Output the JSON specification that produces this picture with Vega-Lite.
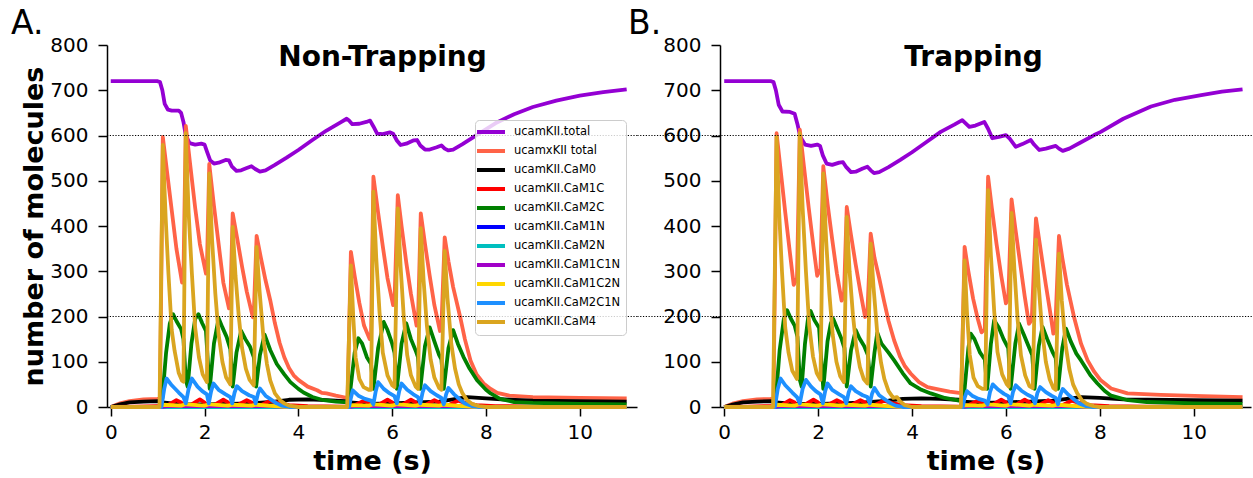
{
  "$schema": "https://vega.github.io/schema/vega-lite/v6.json",
  "background": "white",
  "padding": {"left": 11, "top": 8, "right": 0, "bottom": 0},
  "bounds": "flush",
  "spacing": 83,
  "config": {
    "view": {"stroke": null},
    "font": "DejaVu Sans",
    "axis": {"domainColor": "black", "domainWidth": 1.5, "tickColor": "black", "tickWidth": 1.5, "tickSize": 9, "labelFontSize": 20, "labelColor": "black", "labelFont": "DejaVu Sans", "titleFont": "DejaVu Sans", "titleFontWeight": "bold", "titleFontSize": 27, "titleColor": "black", "grid": false, "zindex": 1},
    "title": {"font": "DejaVu Sans", "fontSize": 33, "fontWeight": "normal", "color": "black", "anchor": "start", "frame": "group", "baseline": "alphabetic", "offset": 0, "dy": 10}
  },
  "resolve": {"scale": {"color": "independent"}, "legend": {"color": "independent"}},
  "datasets": {
    "levels": [{"n": 200}, {"n": 600}],
    "A": [
      {"s":"total","t":0,"n":720},{"s":"total","t":1.0,"n":720},{"s":"total","t":1.05,"n":718},{"s":"total","t":1.1,"n":700},{"s":"total","t":1.15,"n":670},{"s":"total","t":1.22,"n":657},{"s":"total","t":1.3,"n":655},{"s":"total","t":1.45,"n":655},{"s":"total","t":1.5,"n":650},{"s":"total","t":1.55,"n":630},{"s":"total","t":1.6,"n":600},{"s":"total","t":1.68,"n":583},{"s":"total","t":1.8,"n":580},{"s":"total","t":1.93,"n":582},{"s":"total","t":2.0,"n":580},{"s":"total","t":2.05,"n":565},{"s":"total","t":2.12,"n":545},{"s":"total","t":2.2,"n":538},{"s":"total","t":2.3,"n":540},{"s":"total","t":2.45,"n":546},{"s":"total","t":2.52,"n":545},{"s":"total","t":2.58,"n":532},{"s":"total","t":2.68,"n":522},{"s":"total","t":2.78,"n":523},{"s":"total","t":2.9,"n":528},{"s":"total","t":3.0,"n":532},{"s":"total","t":3.08,"n":526},{"s":"total","t":3.18,"n":520},{"s":"total","t":3.3,"n":523},{"s":"total","t":3.5,"n":535},{"s":"total","t":3.75,"n":551},{"s":"total","t":4.0,"n":568},{"s":"total","t":4.3,"n":590},{"s":"total","t":4.6,"n":611},{"s":"total","t":4.9,"n":629},{"s":"total","t":5.03,"n":637},{"s":"total","t":5.08,"n":633},{"s":"total","t":5.15,"n":625},{"s":"total","t":5.3,"n":626},{"s":"total","t":5.45,"n":630},{"s":"total","t":5.53,"n":633},{"s":"total","t":5.6,"n":620},{"s":"total","t":5.68,"n":604},{"s":"total","t":5.8,"n":603},{"s":"total","t":5.95,"n":607},{"s":"total","t":6.02,"n":604},{"s":"total","t":6.1,"n":589},{"s":"total","t":6.18,"n":579},{"s":"total","t":6.3,"n":582},{"s":"total","t":6.45,"n":589},{"s":"total","t":6.53,"n":590},{"s":"total","t":6.6,"n":578},{"s":"total","t":6.7,"n":569},{"s":"total","t":6.8,"n":569},{"s":"total","t":6.95,"n":574},{"s":"total","t":7.05,"n":578},{"s":"total","t":7.12,"n":571},{"s":"total","t":7.2,"n":567},{"s":"total","t":7.3,"n":569},{"s":"total","t":7.5,"n":581},{"s":"total","t":7.8,"n":601},{"s":"total","t":8.2,"n":627},{"s":"total","t":8.6,"n":647},{"s":"total","t":9.0,"n":663},{"s":"total","t":9.5,"n":677},{"s":"total","t":10.0,"n":688},{"s":"total","t":10.5,"n":696},{"s":"total","t":11.0,"n":702},
      {"s":"xtotal","t":0,"n":0},{"s":"xtotal","t":0.2,"n":8},{"s":"xtotal","t":0.4,"n":13},{"s":"xtotal","t":0.7,"n":17},{"s":"xtotal","t":1.0,"n":18},{"s":"xtotal","t":1.05,"n":20},{"s":"xtotal","t":1.11,"n":597},{"s":"xtotal","t":1.2,"n":520},{"s":"xtotal","t":1.3,"n":435},{"s":"xtotal","t":1.4,"n":350},{"s":"xtotal","t":1.52,"n":275},{"s":"xtotal","t":1.55,"n":290},{"s":"xtotal","t":1.6,"n":621},{"s":"xtotal","t":1.7,"n":530},{"s":"xtotal","t":1.8,"n":440},{"s":"xtotal","t":1.9,"n":360},{"s":"xtotal","t":2.03,"n":295},{"s":"xtotal","t":2.05,"n":305},{"s":"xtotal","t":2.1,"n":537},{"s":"xtotal","t":2.2,"n":445},{"s":"xtotal","t":2.3,"n":360},{"s":"xtotal","t":2.4,"n":275},{"s":"xtotal","t":2.52,"n":218},{"s":"xtotal","t":2.55,"n":230},{"s":"xtotal","t":2.6,"n":428},{"s":"xtotal","t":2.7,"n":370},{"s":"xtotal","t":2.8,"n":310},{"s":"xtotal","t":2.9,"n":255},{"s":"xtotal","t":3.03,"n":198},{"s":"xtotal","t":3.05,"n":208},{"s":"xtotal","t":3.11,"n":378},{"s":"xtotal","t":3.2,"n":330},{"s":"xtotal","t":3.3,"n":280},{"s":"xtotal","t":3.4,"n":236},{"s":"xtotal","t":3.5,"n":185},{"s":"xtotal","t":3.6,"n":142},{"s":"xtotal","t":3.7,"n":110},{"s":"xtotal","t":3.8,"n":86},{"s":"xtotal","t":3.9,"n":70},{"s":"xtotal","t":4.0,"n":60},{"s":"xtotal","t":4.2,"n":45},{"s":"xtotal","t":4.4,"n":37},{"s":"xtotal","t":4.5,"n":31},{"s":"xtotal","t":4.6,"n":30},{"s":"xtotal","t":4.8,"n":25},{"s":"xtotal","t":5.0,"n":21},{"s":"xtotal","t":5.05,"n":23},{"s":"xtotal","t":5.12,"n":343},{"s":"xtotal","t":5.2,"n":290},{"s":"xtotal","t":5.3,"n":230},{"s":"xtotal","t":5.4,"n":180},{"s":"xtotal","t":5.52,"n":150},{"s":"xtotal","t":5.55,"n":160},{"s":"xtotal","t":5.6,"n":509},{"s":"xtotal","t":5.7,"n":430},{"s":"xtotal","t":5.8,"n":355},{"s":"xtotal","t":5.9,"n":285},{"s":"xtotal","t":6.02,"n":225},{"s":"xtotal","t":6.05,"n":235},{"s":"xtotal","t":6.12,"n":468},{"s":"xtotal","t":6.2,"n":400},{"s":"xtotal","t":6.3,"n":320},{"s":"xtotal","t":6.4,"n":250},{"s":"xtotal","t":6.52,"n":180},{"s":"xtotal","t":6.55,"n":190},{"s":"xtotal","t":6.61,"n":428},{"s":"xtotal","t":6.7,"n":360},{"s":"xtotal","t":6.8,"n":290},{"s":"xtotal","t":6.9,"n":225},{"s":"xtotal","t":7.02,"n":168},{"s":"xtotal","t":7.05,"n":178},{"s":"xtotal","t":7.12,"n":375},{"s":"xtotal","t":7.2,"n":322},{"s":"xtotal","t":7.3,"n":265},{"s":"xtotal","t":7.45,"n":199},{"s":"xtotal","t":7.55,"n":150},{"s":"xtotal","t":7.67,"n":103},{"s":"xtotal","t":7.8,"n":72},{"s":"xtotal","t":7.95,"n":52},{"s":"xtotal","t":8.1,"n":40},{"s":"xtotal","t":8.24,"n":31},{"s":"xtotal","t":8.5,"n":25},{"s":"xtotal","t":9.0,"n":22},{"s":"xtotal","t":10.0,"n":20},{"s":"xtotal","t":11.0,"n":19},
      {"s":"CaM0","t":0,"n":0},{"s":"CaM0","t":0.2,"n":6},{"s":"CaM0","t":0.4,"n":10},{"s":"CaM0","t":0.7,"n":12},{"s":"CaM0","t":1.0,"n":13},{"s":"CaM0","t":1.1,"n":10},{"s":"CaM0","t":1.5,"n":6},{"s":"CaM0","t":2.0,"n":6},{"s":"CaM0","t":2.5,"n":7},{"s":"CaM0","t":3.0,"n":8},{"s":"CaM0","t":3.5,"n":12},{"s":"CaM0","t":3.8,"n":16},{"s":"CaM0","t":4.2,"n":17},{"s":"CaM0","t":4.6,"n":15},{"s":"CaM0","t":5.0,"n":13},{"s":"CaM0","t":5.1,"n":10},{"s":"CaM0","t":5.5,"n":7},{"s":"CaM0","t":6.0,"n":8},{"s":"CaM0","t":6.5,"n":10},{"s":"CaM0","t":7.0,"n":12},{"s":"CaM0","t":7.3,"n":17},{"s":"CaM0","t":7.6,"n":22},{"s":"CaM0","t":8.0,"n":19},{"s":"CaM0","t":8.5,"n":16},{"s":"CaM0","t":9.0,"n":14},{"s":"CaM0","t":10.0,"n":13},{"s":"CaM0","t":11.0,"n":12},
      {"s":"CaM1C","t":0,"n":0},{"s":"CaM1C","t":0.5,"n":1},{"s":"CaM1C","t":1.0,"n":2},{"s":"CaM1C","t":1.05,"n":0},{"s":"CaM1C","t":1.2,"n":3},{"s":"CaM1C","t":1.4,"n":15},{"s":"CaM1C","t":1.5,"n":10},{"s":"CaM1C","t":1.55,"n":0},{"s":"CaM1C","t":1.7,"n":4},{"s":"CaM1C","t":1.9,"n":17},{"s":"CaM1C","t":2.0,"n":10},{"s":"CaM1C","t":2.05,"n":0},{"s":"CaM1C","t":2.2,"n":4},{"s":"CaM1C","t":2.4,"n":16},{"s":"CaM1C","t":2.5,"n":10},{"s":"CaM1C","t":2.55,"n":0},{"s":"CaM1C","t":2.7,"n":4},{"s":"CaM1C","t":2.9,"n":15},{"s":"CaM1C","t":3.0,"n":10},{"s":"CaM1C","t":3.05,"n":0},{"s":"CaM1C","t":3.2,"n":4},{"s":"CaM1C","t":3.4,"n":14},{"s":"CaM1C","t":3.6,"n":8},{"s":"CaM1C","t":3.8,"n":4},{"s":"CaM1C","t":4.2,"n":2},{"s":"CaM1C","t":5.0,"n":1},{"s":"CaM1C","t":5.05,"n":0},{"s":"CaM1C","t":5.2,"n":4},{"s":"CaM1C","t":5.4,"n":14},{"s":"CaM1C","t":5.5,"n":9},{"s":"CaM1C","t":5.55,"n":0},{"s":"CaM1C","t":5.7,"n":4},{"s":"CaM1C","t":5.9,"n":16},{"s":"CaM1C","t":6.0,"n":10},{"s":"CaM1C","t":6.05,"n":0},{"s":"CaM1C","t":6.2,"n":4},{"s":"CaM1C","t":6.4,"n":16},{"s":"CaM1C","t":6.5,"n":10},{"s":"CaM1C","t":6.55,"n":0},{"s":"CaM1C","t":6.7,"n":4},{"s":"CaM1C","t":6.9,"n":15},{"s":"CaM1C","t":7.0,"n":10},{"s":"CaM1C","t":7.05,"n":0},{"s":"CaM1C","t":7.2,"n":4},{"s":"CaM1C","t":7.4,"n":14},{"s":"CaM1C","t":7.6,"n":8},{"s":"CaM1C","t":7.8,"n":4},{"s":"CaM1C","t":8.2,"n":2},{"s":"CaM1C","t":9.0,"n":1},{"s":"CaM1C","t":11.0,"n":1},
      {"s":"CaM2C","t":0,"n":0},{"s":"CaM2C","t":1.05,"n":0},{"s":"CaM2C","t":1.1,"n":20},{"s":"CaM2C","t":1.18,"n":120},{"s":"CaM2C","t":1.26,"n":185},{"s":"CaM2C","t":1.33,"n":205},{"s":"CaM2C","t":1.4,"n":190},{"s":"CaM2C","t":1.5,"n":172},{"s":"CaM2C","t":1.55,"n":150},{"s":"CaM2C","t":1.6,"n":60},{"s":"CaM2C","t":1.64,"n":45},{"s":"CaM2C","t":1.72,"n":140},{"s":"CaM2C","t":1.8,"n":195},{"s":"CaM2C","t":1.87,"n":205},{"s":"CaM2C","t":1.95,"n":185},{"s":"CaM2C","t":2.03,"n":168},{"s":"CaM2C","t":2.07,"n":100},{"s":"CaM2C","t":2.11,"n":40},{"s":"CaM2C","t":2.2,"n":140},{"s":"CaM2C","t":2.3,"n":196},{"s":"CaM2C","t":2.38,"n":176},{"s":"CaM2C","t":2.47,"n":155},{"s":"CaM2C","t":2.55,"n":128},{"s":"CaM2C","t":2.6,"n":45},{"s":"CaM2C","t":2.68,"n":120},{"s":"CaM2C","t":2.78,"n":168},{"s":"CaM2C","t":2.87,"n":150},{"s":"CaM2C","t":2.97,"n":133},{"s":"CaM2C","t":3.05,"n":110},{"s":"CaM2C","t":3.1,"n":45},{"s":"CaM2C","t":3.18,"n":115},{"s":"CaM2C","t":3.28,"n":160},{"s":"CaM2C","t":3.4,"n":126},{"s":"CaM2C","t":3.54,"n":95},{"s":"CaM2C","t":3.7,"n":72},{"s":"CaM2C","t":3.83,"n":55},{"s":"CaM2C","t":4.0,"n":40},{"s":"CaM2C","t":4.11,"n":32},{"s":"CaM2C","t":4.3,"n":22},{"s":"CaM2C","t":4.54,"n":15},{"s":"CaM2C","t":4.8,"n":12},{"s":"CaM2C","t":5.05,"n":10},{"s":"CaM2C","t":5.1,"n":30},{"s":"CaM2C","t":5.2,"n":120},{"s":"CaM2C","t":5.28,"n":152},{"s":"CaM2C","t":5.36,"n":140},{"s":"CaM2C","t":5.46,"n":110},{"s":"CaM2C","t":5.55,"n":95},{"s":"CaM2C","t":5.6,"n":40},{"s":"CaM2C","t":5.7,"n":130},{"s":"CaM2C","t":5.82,"n":188},{"s":"CaM2C","t":5.9,"n":170},{"s":"CaM2C","t":6.0,"n":140},{"s":"CaM2C","t":6.05,"n":120},{"s":"CaM2C","t":6.1,"n":40},{"s":"CaM2C","t":6.2,"n":140},{"s":"CaM2C","t":6.3,"n":185},{"s":"CaM2C","t":6.4,"n":150},{"s":"CaM2C","t":6.5,"n":125},{"s":"CaM2C","t":6.55,"n":110},{"s":"CaM2C","t":6.6,"n":40},{"s":"CaM2C","t":6.7,"n":135},{"s":"CaM2C","t":6.8,"n":176},{"s":"CaM2C","t":6.9,"n":145},{"s":"CaM2C","t":7.0,"n":115},{"s":"CaM2C","t":7.05,"n":105},{"s":"CaM2C","t":7.1,"n":40},{"s":"CaM2C","t":7.2,"n":130},{"s":"CaM2C","t":7.3,"n":170},{"s":"CaM2C","t":7.4,"n":140},{"s":"CaM2C","t":7.52,"n":111},{"s":"CaM2C","t":7.65,"n":85},{"s":"CaM2C","t":7.81,"n":59},{"s":"CaM2C","t":8.0,"n":38},{"s":"CaM2C","t":8.1,"n":30},{"s":"CaM2C","t":8.3,"n":18},{"s":"CaM2C","t":8.6,"n":11},{"s":"CaM2C","t":9.0,"n":9},{"s":"CaM2C","t":10.0,"n":7},{"s":"CaM2C","t":11.0,"n":6},
      {"s":"CaM1N","t":0,"n":0},{"s":"CaM1N","t":1.05,"n":0},{"s":"CaM1N","t":1.2,"n":1},{"s":"CaM1N","t":3.5,"n":1},{"s":"CaM1N","t":4.0,"n":0},{"s":"CaM1N","t":5.05,"n":0},{"s":"CaM1N","t":5.2,"n":1},{"s":"CaM1N","t":7.5,"n":1},{"s":"CaM1N","t":8.0,"n":0},{"s":"CaM1N","t":11.0,"n":0},
      {"s":"CaM2N","t":0,"n":0},{"s":"CaM2N","t":1.1,"n":0},{"s":"CaM2N","t":3.5,"n":0},{"s":"CaM2N","t":5.1,"n":0},{"s":"CaM2N","t":7.5,"n":0},{"s":"CaM2N","t":11.0,"n":0},
      {"s":"CaM1C1N","t":0,"n":0},{"s":"CaM1C1N","t":1.05,"n":0},{"s":"CaM1C1N","t":1.2,"n":2},{"s":"CaM1C1N","t":3.4,"n":2},{"s":"CaM1C1N","t":3.8,"n":0},{"s":"CaM1C1N","t":5.05,"n":0},{"s":"CaM1C1N","t":5.2,"n":2},{"s":"CaM1C1N","t":7.4,"n":2},{"s":"CaM1C1N","t":7.8,"n":0},{"s":"CaM1C1N","t":11.0,"n":0},
      {"s":"CaM1C2N","t":0,"n":0},{"s":"CaM1C2N","t":1.0,"n":0},{"s":"CaM1C2N","t":1.1,"n":5},{"s":"CaM1C2N","t":1.5,"n":3},{"s":"CaM1C2N","t":1.6,"n":6},{"s":"CaM1C2N","t":2.0,"n":3},{"s":"CaM1C2N","t":2.1,"n":6},{"s":"CaM1C2N","t":2.5,"n":3},{"s":"CaM1C2N","t":2.6,"n":5},{"s":"CaM1C2N","t":3.0,"n":3},{"s":"CaM1C2N","t":3.1,"n":5},{"s":"CaM1C2N","t":3.5,"n":2},{"s":"CaM1C2N","t":3.8,"n":0},{"s":"CaM1C2N","t":5.0,"n":0},{"s":"CaM1C2N","t":5.1,"n":4},{"s":"CaM1C2N","t":5.5,"n":3},{"s":"CaM1C2N","t":5.6,"n":6},{"s":"CaM1C2N","t":6.0,"n":3},{"s":"CaM1C2N","t":6.1,"n":6},{"s":"CaM1C2N","t":6.5,"n":3},{"s":"CaM1C2N","t":6.6,"n":5},{"s":"CaM1C2N","t":7.0,"n":3},{"s":"CaM1C2N","t":7.1,"n":5},{"s":"CaM1C2N","t":7.5,"n":2},{"s":"CaM1C2N","t":7.8,"n":0},{"s":"CaM1C2N","t":11.0,"n":0},
      {"s":"CaM2C1N","t":0,"n":0},{"s":"CaM2C1N","t":1.08,"n":0},{"s":"CaM2C1N","t":1.14,"n":40},{"s":"CaM2C1N","t":1.19,"n":63},{"s":"CaM2C1N","t":1.3,"n":48},{"s":"CaM2C1N","t":1.45,"n":32},{"s":"CaM2C1N","t":1.55,"n":22},{"s":"CaM2C1N","t":1.6,"n":8},{"s":"CaM2C1N","t":1.66,"n":40},{"s":"CaM2C1N","t":1.73,"n":63},{"s":"CaM2C1N","t":1.85,"n":45},{"s":"CaM2C1N","t":1.95,"n":35},{"s":"CaM2C1N","t":2.05,"n":28},{"s":"CaM2C1N","t":2.09,"n":8},{"s":"CaM2C1N","t":2.14,"n":35},{"s":"CaM2C1N","t":2.19,"n":52},{"s":"CaM2C1N","t":2.3,"n":38},{"s":"CaM2C1N","t":2.45,"n":28},{"s":"CaM2C1N","t":2.55,"n":22},{"s":"CaM2C1N","t":2.59,"n":8},{"s":"CaM2C1N","t":2.64,"n":32},{"s":"CaM2C1N","t":2.69,"n":46},{"s":"CaM2C1N","t":2.8,"n":35},{"s":"CaM2C1N","t":2.95,"n":26},{"s":"CaM2C1N","t":3.05,"n":22},{"s":"CaM2C1N","t":3.09,"n":8},{"s":"CaM2C1N","t":3.14,"n":30},{"s":"CaM2C1N","t":3.18,"n":41},{"s":"CaM2C1N","t":3.3,"n":25},{"s":"CaM2C1N","t":3.45,"n":14},{"s":"CaM2C1N","t":3.54,"n":8},{"s":"CaM2C1N","t":3.65,"n":3},{"s":"CaM2C1N","t":3.8,"n":0},{"s":"CaM2C1N","t":5.08,"n":0},{"s":"CaM2C1N","t":5.12,"n":20},{"s":"CaM2C1N","t":5.16,"n":37},{"s":"CaM2C1N","t":5.28,"n":25},{"s":"CaM2C1N","t":5.42,"n":18},{"s":"CaM2C1N","t":5.55,"n":14},{"s":"CaM2C1N","t":5.6,"n":6},{"s":"CaM2C1N","t":5.65,"n":35},{"s":"CaM2C1N","t":5.7,"n":55},{"s":"CaM2C1N","t":5.82,"n":40},{"s":"CaM2C1N","t":5.95,"n":30},{"s":"CaM2C1N","t":6.05,"n":24},{"s":"CaM2C1N","t":6.1,"n":8},{"s":"CaM2C1N","t":6.15,"n":35},{"s":"CaM2C1N","t":6.2,"n":52},{"s":"CaM2C1N","t":6.32,"n":38},{"s":"CaM2C1N","t":6.45,"n":28},{"s":"CaM2C1N","t":6.55,"n":22},{"s":"CaM2C1N","t":6.6,"n":8},{"s":"CaM2C1N","t":6.65,"n":33},{"s":"CaM2C1N","t":6.7,"n":48},{"s":"CaM2C1N","t":6.82,"n":35},{"s":"CaM2C1N","t":6.95,"n":26},{"s":"CaM2C1N","t":7.05,"n":20},{"s":"CaM2C1N","t":7.1,"n":6},{"s":"CaM2C1N","t":7.15,"n":28},{"s":"CaM2C1N","t":7.2,"n":42},{"s":"CaM2C1N","t":7.32,"n":28},{"s":"CaM2C1N","t":7.45,"n":16},{"s":"CaM2C1N","t":7.55,"n":8},{"s":"CaM2C1N","t":7.7,"n":2},{"s":"CaM2C1N","t":7.85,"n":0},{"s":"CaM2C1N","t":11.0,"n":0},
      {"s":"CaM4","t":0,"n":0},{"s":"CaM4","t":1.04,"n":0},{"s":"CaM4","t":1.11,"n":579},{"s":"CaM4","t":1.17,"n":420},{"s":"CaM4","t":1.23,"n":295},{"s":"CaM4","t":1.3,"n":170},{"s":"CaM4","t":1.36,"n":125},{"s":"CaM4","t":1.45,"n":75},{"s":"CaM4","t":1.52,"n":58},{"s":"CaM4","t":1.55,"n":56},{"s":"CaM4","t":1.6,"n":605},{"s":"CaM4","t":1.66,"n":430},{"s":"CaM4","t":1.73,"n":295},{"s":"CaM4","t":1.8,"n":175},{"s":"CaM4","t":1.88,"n":110},{"s":"CaM4","t":1.96,"n":72},{"s":"CaM4","t":2.05,"n":55},{"s":"CaM4","t":2.1,"n":516},{"s":"CaM4","t":2.16,"n":370},{"s":"CaM4","t":2.23,"n":250},{"s":"CaM4","t":2.3,"n":160},{"s":"CaM4","t":2.38,"n":100},{"s":"CaM4","t":2.46,"n":65},{"s":"CaM4","t":2.55,"n":50},{"s":"CaM4","t":2.6,"n":398},{"s":"CaM4","t":2.66,"n":290},{"s":"CaM4","t":2.73,"n":200},{"s":"CaM4","t":2.8,"n":130},{"s":"CaM4","t":2.88,"n":85},{"s":"CaM4","t":2.96,"n":60},{"s":"CaM4","t":3.05,"n":48},{"s":"CaM4","t":3.11,"n":354},{"s":"CaM4","t":3.17,"n":260},{"s":"CaM4","t":3.26,"n":147},{"s":"CaM4","t":3.33,"n":95},{"s":"CaM4","t":3.4,"n":59},{"s":"CaM4","t":3.5,"n":30},{"s":"CaM4","t":3.61,"n":15},{"s":"CaM4","t":3.7,"n":8},{"s":"CaM4","t":3.8,"n":3},{"s":"CaM4","t":4.0,"n":0},{"s":"CaM4","t":5.04,"n":0},{"s":"CaM4","t":5.12,"n":313},{"s":"CaM4","t":5.17,"n":200},{"s":"CaM4","t":5.22,"n":110},{"s":"CaM4","t":5.3,"n":62},{"s":"CaM4","t":5.39,"n":44},{"s":"CaM4","t":5.5,"n":38},{"s":"CaM4","t":5.55,"n":38},{"s":"CaM4","t":5.6,"n":476},{"s":"CaM4","t":5.66,"n":330},{"s":"CaM4","t":5.73,"n":210},{"s":"CaM4","t":5.8,"n":120},{"s":"CaM4","t":5.9,"n":70},{"s":"CaM4","t":6.0,"n":48},{"s":"CaM4","t":6.05,"n":44},{"s":"CaM4","t":6.12,"n":439},{"s":"CaM4","t":6.18,"n":310},{"s":"CaM4","t":6.25,"n":195},{"s":"CaM4","t":6.32,"n":115},{"s":"CaM4","t":6.4,"n":70},{"s":"CaM4","t":6.5,"n":45},{"s":"CaM4","t":6.55,"n":40},{"s":"CaM4","t":6.61,"n":395},{"s":"CaM4","t":6.67,"n":280},{"s":"CaM4","t":6.74,"n":180},{"s":"CaM4","t":6.82,"n":105},{"s":"CaM4","t":6.9,"n":65},{"s":"CaM4","t":7.0,"n":42},{"s":"CaM4","t":7.05,"n":38},{"s":"CaM4","t":7.12,"n":345},{"s":"CaM4","t":7.18,"n":240},{"s":"CaM4","t":7.26,"n":140},{"s":"CaM4","t":7.34,"n":85},{"s":"CaM4","t":7.42,"n":50},{"s":"CaM4","t":7.5,"n":30},{"s":"CaM4","t":7.6,"n":15},{"s":"CaM4","t":7.7,"n":7},{"s":"CaM4","t":7.85,"n":2},{"s":"CaM4","t":8.0,"n":0},{"s":"CaM4","t":11.0,"n":0}
    ],
    "B": [
      {"s":"total","t":0,"n":720},{"s":"total","t":1.0,"n":720},{"s":"total","t":1.05,"n":718},{"s":"total","t":1.1,"n":700},{"s":"total","t":1.16,"n":668},{"s":"total","t":1.24,"n":653},{"s":"total","t":1.4,"n":652},{"s":"total","t":1.5,"n":648},{"s":"total","t":1.56,"n":625},{"s":"total","t":1.62,"n":597},{"s":"total","t":1.72,"n":580},{"s":"total","t":1.85,"n":577},{"s":"total","t":1.98,"n":580},{"s":"total","t":2.04,"n":577},{"s":"total","t":2.1,"n":556},{"s":"total","t":2.18,"n":538},{"s":"total","t":2.3,"n":535},{"s":"total","t":2.45,"n":540},{"s":"total","t":2.53,"n":541},{"s":"total","t":2.6,"n":530},{"s":"total","t":2.7,"n":519},{"s":"total","t":2.8,"n":520},{"s":"total","t":2.95,"n":527},{"s":"total","t":3.05,"n":531},{"s":"total","t":3.12,"n":523},{"s":"total","t":3.19,"n":517},{"s":"total","t":3.3,"n":519},{"s":"total","t":3.5,"n":530},{"s":"total","t":3.75,"n":546},{"s":"total","t":4.0,"n":563},{"s":"total","t":4.3,"n":585},{"s":"total","t":4.61,"n":608},{"s":"total","t":4.9,"n":624},{"s":"total","t":5.07,"n":634},{"s":"total","t":5.12,"n":629},{"s":"total","t":5.22,"n":619},{"s":"total","t":5.35,"n":622},{"s":"total","t":5.54,"n":630},{"s":"total","t":5.62,"n":615},{"s":"total","t":5.71,"n":594},{"s":"total","t":5.85,"n":597},{"s":"total","t":6.0,"n":601},{"s":"total","t":6.08,"n":593},{"s":"total","t":6.21,"n":575},{"s":"total","t":6.35,"n":581},{"s":"total","t":6.53,"n":590},{"s":"total","t":6.6,"n":580},{"s":"total","t":6.71,"n":568},{"s":"total","t":6.85,"n":571},{"s":"total","t":7.06,"n":577},{"s":"total","t":7.13,"n":571},{"s":"total","t":7.21,"n":566},{"s":"total","t":7.35,"n":571},{"s":"total","t":7.6,"n":585},{"s":"total","t":7.88,"n":601},{"s":"total","t":8.02,"n":608},{"s":"total","t":8.5,"n":637},{"s":"total","t":9.09,"n":664},{"s":"total","t":9.6,"n":679},{"s":"total","t":10.16,"n":689},{"s":"total","t":10.6,"n":697},{"s":"total","t":11.04,"n":702},
      {"s":"xtotal","t":0,"n":0},{"s":"xtotal","t":0.2,"n":8},{"s":"xtotal","t":0.4,"n":13},{"s":"xtotal","t":0.7,"n":17},{"s":"xtotal","t":1.0,"n":18},{"s":"xtotal","t":1.05,"n":20},{"s":"xtotal","t":1.115,"n":605},{"s":"xtotal","t":1.2,"n":525},{"s":"xtotal","t":1.3,"n":430},{"s":"xtotal","t":1.4,"n":340},{"s":"xtotal","t":1.48,"n":270},{"s":"xtotal","t":1.55,"n":285},{"s":"xtotal","t":1.61,"n":613},{"s":"xtotal","t":1.7,"n":530},{"s":"xtotal","t":1.8,"n":440},{"s":"xtotal","t":1.9,"n":355},{"s":"xtotal","t":1.98,"n":290},{"s":"xtotal","t":2.05,"n":305},{"s":"xtotal","t":2.11,"n":532},{"s":"xtotal","t":2.2,"n":450},{"s":"xtotal","t":2.3,"n":370},{"s":"xtotal","t":2.4,"n":295},{"s":"xtotal","t":2.5,"n":235},{"s":"xtotal","t":2.55,"n":245},{"s":"xtotal","t":2.61,"n":442},{"s":"xtotal","t":2.7,"n":380},{"s":"xtotal","t":2.8,"n":315},{"s":"xtotal","t":2.9,"n":255},{"s":"xtotal","t":3.0,"n":199},{"s":"xtotal","t":3.05,"n":210},{"s":"xtotal","t":3.12,"n":383},{"s":"xtotal","t":3.2,"n":330},{"s":"xtotal","t":3.3,"n":285},{"s":"xtotal","t":3.4,"n":236},{"s":"xtotal","t":3.5,"n":190},{"s":"xtotal","t":3.62,"n":147},{"s":"xtotal","t":3.75,"n":110},{"s":"xtotal","t":3.85,"n":90},{"s":"xtotal","t":3.97,"n":74},{"s":"xtotal","t":4.15,"n":55},{"s":"xtotal","t":4.33,"n":44},{"s":"xtotal","t":4.61,"n":38},{"s":"xtotal","t":4.8,"n":34},{"s":"xtotal","t":5.0,"n":31},{"s":"xtotal","t":5.05,"n":33},{"s":"xtotal","t":5.12,"n":354},{"s":"xtotal","t":5.2,"n":300},{"s":"xtotal","t":5.3,"n":240},{"s":"xtotal","t":5.4,"n":195},{"s":"xtotal","t":5.48,"n":165},{"s":"xtotal","t":5.55,"n":172},{"s":"xtotal","t":5.62,"n":509},{"s":"xtotal","t":5.7,"n":440},{"s":"xtotal","t":5.8,"n":360},{"s":"xtotal","t":5.9,"n":290},{"s":"xtotal","t":6.0,"n":229},{"s":"xtotal","t":6.05,"n":238},{"s":"xtotal","t":6.12,"n":459},{"s":"xtotal","t":6.2,"n":395},{"s":"xtotal","t":6.3,"n":320},{"s":"xtotal","t":6.4,"n":245},{"s":"xtotal","t":6.49,"n":184},{"s":"xtotal","t":6.55,"n":192},{"s":"xtotal","t":6.64,"n":417},{"s":"xtotal","t":6.75,"n":340},{"s":"xtotal","t":6.85,"n":270},{"s":"xtotal","t":6.95,"n":205},{"s":"xtotal","t":7.01,"n":162},{"s":"xtotal","t":7.05,"n":172},{"s":"xtotal","t":7.13,"n":378},{"s":"xtotal","t":7.2,"n":330},{"s":"xtotal","t":7.3,"n":270},{"s":"xtotal","t":7.45,"n":199},{"s":"xtotal","t":7.6,"n":140},{"s":"xtotal","t":7.74,"n":103},{"s":"xtotal","t":7.88,"n":78},{"s":"xtotal","t":8.02,"n":59},{"s":"xtotal","t":8.24,"n":41},{"s":"xtotal","t":8.59,"n":30},{"s":"xtotal","t":9.3,"n":27},{"s":"xtotal","t":10.2,"n":24},{"s":"xtotal","t":11.04,"n":22},
      {"s":"CaM0","t":0,"n":0},{"s":"CaM0","t":0.2,"n":6},{"s":"CaM0","t":0.4,"n":10},{"s":"CaM0","t":0.7,"n":12},{"s":"CaM0","t":1.0,"n":13},{"s":"CaM0","t":1.1,"n":10},{"s":"CaM0","t":1.5,"n":7},{"s":"CaM0","t":2.0,"n":7},{"s":"CaM0","t":2.5,"n":8},{"s":"CaM0","t":3.0,"n":10},{"s":"CaM0","t":3.5,"n":14},{"s":"CaM0","t":3.8,"n":18},{"s":"CaM0","t":4.2,"n":19},{"s":"CaM0","t":4.6,"n":18},{"s":"CaM0","t":5.0,"n":16},{"s":"CaM0","t":5.1,"n":12},{"s":"CaM0","t":5.5,"n":9},{"s":"CaM0","t":6.0,"n":10},{"s":"CaM0","t":6.5,"n":12},{"s":"CaM0","t":7.0,"n":14},{"s":"CaM0","t":7.3,"n":18},{"s":"CaM0","t":7.6,"n":22},{"s":"CaM0","t":8.0,"n":20},{"s":"CaM0","t":8.5,"n":17},{"s":"CaM0","t":9.0,"n":16},{"s":"CaM0","t":10.0,"n":15},{"s":"CaM0","t":11.04,"n":14},
      {"s":"CaM1C","t":0,"n":0},{"s":"CaM1C","t":0.5,"n":1},{"s":"CaM1C","t":1.0,"n":2},{"s":"CaM1C","t":1.05,"n":0},{"s":"CaM1C","t":1.2,"n":3},{"s":"CaM1C","t":1.4,"n":15},{"s":"CaM1C","t":1.5,"n":10},{"s":"CaM1C","t":1.55,"n":0},{"s":"CaM1C","t":1.7,"n":4},{"s":"CaM1C","t":1.9,"n":16},{"s":"CaM1C","t":2.0,"n":10},{"s":"CaM1C","t":2.05,"n":0},{"s":"CaM1C","t":2.2,"n":4},{"s":"CaM1C","t":2.4,"n":15},{"s":"CaM1C","t":2.5,"n":10},{"s":"CaM1C","t":2.55,"n":0},{"s":"CaM1C","t":2.7,"n":4},{"s":"CaM1C","t":2.9,"n":15},{"s":"CaM1C","t":3.0,"n":10},{"s":"CaM1C","t":3.05,"n":0},{"s":"CaM1C","t":3.2,"n":4},{"s":"CaM1C","t":3.4,"n":14},{"s":"CaM1C","t":3.6,"n":8},{"s":"CaM1C","t":3.8,"n":4},{"s":"CaM1C","t":4.2,"n":2},{"s":"CaM1C","t":5.0,"n":1},{"s":"CaM1C","t":5.05,"n":0},{"s":"CaM1C","t":5.2,"n":4},{"s":"CaM1C","t":5.4,"n":14},{"s":"CaM1C","t":5.5,"n":9},{"s":"CaM1C","t":5.55,"n":0},{"s":"CaM1C","t":5.7,"n":4},{"s":"CaM1C","t":5.9,"n":16},{"s":"CaM1C","t":6.0,"n":10},{"s":"CaM1C","t":6.05,"n":0},{"s":"CaM1C","t":6.2,"n":4},{"s":"CaM1C","t":6.4,"n":16},{"s":"CaM1C","t":6.5,"n":10},{"s":"CaM1C","t":6.55,"n":0},{"s":"CaM1C","t":6.7,"n":4},{"s":"CaM1C","t":6.9,"n":15},{"s":"CaM1C","t":7.0,"n":10},{"s":"CaM1C","t":7.05,"n":0},{"s":"CaM1C","t":7.2,"n":4},{"s":"CaM1C","t":7.4,"n":14},{"s":"CaM1C","t":7.6,"n":8},{"s":"CaM1C","t":7.8,"n":4},{"s":"CaM1C","t":8.2,"n":2},{"s":"CaM1C","t":9.0,"n":1},{"s":"CaM1C","t":11.04,"n":1},
      {"s":"CaM2C","t":0,"n":0},{"s":"CaM2C","t":1.05,"n":0},{"s":"CaM2C","t":1.1,"n":20},{"s":"CaM2C","t":1.18,"n":125},{"s":"CaM2C","t":1.27,"n":195},{"s":"CaM2C","t":1.34,"n":214},{"s":"CaM2C","t":1.42,"n":195},{"s":"CaM2C","t":1.5,"n":180},{"s":"CaM2C","t":1.56,"n":155},{"s":"CaM2C","t":1.61,"n":60},{"s":"CaM2C","t":1.65,"n":45},{"s":"CaM2C","t":1.72,"n":140},{"s":"CaM2C","t":1.79,"n":200},{"s":"CaM2C","t":1.84,"n":212},{"s":"CaM2C","t":1.92,"n":192},{"s":"CaM2C","t":2.02,"n":175},{"s":"CaM2C","t":2.07,"n":100},{"s":"CaM2C","t":2.11,"n":40},{"s":"CaM2C","t":2.2,"n":145},{"s":"CaM2C","t":2.27,"n":185},{"s":"CaM2C","t":2.32,"n":195},{"s":"CaM2C","t":2.4,"n":175},{"s":"CaM2C","t":2.5,"n":150},{"s":"CaM2C","t":2.56,"n":130},{"s":"CaM2C","t":2.61,"n":45},{"s":"CaM2C","t":2.7,"n":125},{"s":"CaM2C","t":2.8,"n":170},{"s":"CaM2C","t":2.88,"n":152},{"s":"CaM2C","t":2.98,"n":135},{"s":"CaM2C","t":3.06,"n":115},{"s":"CaM2C","t":3.12,"n":45},{"s":"CaM2C","t":3.2,"n":120},{"s":"CaM2C","t":3.26,"n":164},{"s":"CaM2C","t":3.35,"n":140},{"s":"CaM2C","t":3.5,"n":120},{"s":"CaM2C","t":3.62,"n":103},{"s":"CaM2C","t":3.8,"n":75},{"s":"CaM2C","t":3.97,"n":52},{"s":"CaM2C","t":4.2,"n":38},{"s":"CaM2C","t":4.4,"n":30},{"s":"CaM2C","t":4.7,"n":20},{"s":"CaM2C","t":5.0,"n":14},{"s":"CaM2C","t":5.07,"n":14},{"s":"CaM2C","t":5.12,"n":40},{"s":"CaM2C","t":5.2,"n":130},{"s":"CaM2C","t":5.25,"n":162},{"s":"CaM2C","t":5.33,"n":150},{"s":"CaM2C","t":5.45,"n":120},{"s":"CaM2C","t":5.55,"n":105},{"s":"CaM2C","t":5.6,"n":40},{"s":"CaM2C","t":5.68,"n":140},{"s":"CaM2C","t":5.75,"n":192},{"s":"CaM2C","t":5.85,"n":175},{"s":"CaM2C","t":5.95,"n":150},{"s":"CaM2C","t":6.05,"n":130},{"s":"CaM2C","t":6.1,"n":40},{"s":"CaM2C","t":6.2,"n":140},{"s":"CaM2C","t":6.28,"n":184},{"s":"CaM2C","t":6.38,"n":160},{"s":"CaM2C","t":6.5,"n":130},{"s":"CaM2C","t":6.56,"n":115},{"s":"CaM2C","t":6.61,"n":40},{"s":"CaM2C","t":6.7,"n":135},{"s":"CaM2C","t":6.78,"n":177},{"s":"CaM2C","t":6.88,"n":150},{"s":"CaM2C","t":7.0,"n":120},{"s":"CaM2C","t":7.06,"n":108},{"s":"CaM2C","t":7.11,"n":40},{"s":"CaM2C","t":7.2,"n":130},{"s":"CaM2C","t":7.28,"n":173},{"s":"CaM2C","t":7.38,"n":145},{"s":"CaM2C","t":7.5,"n":118},{"s":"CaM2C","t":7.6,"n":103},{"s":"CaM2C","t":7.8,"n":70},{"s":"CaM2C","t":7.95,"n":52},{"s":"CaM2C","t":8.1,"n":36},{"s":"CaM2C","t":8.24,"n":25},{"s":"CaM2C","t":8.6,"n":15},{"s":"CaM2C","t":9.0,"n":11},{"s":"CaM2C","t":10.0,"n":8},{"s":"CaM2C","t":11.04,"n":7},
      {"s":"CaM1N","t":0,"n":0},{"s":"CaM1N","t":1.05,"n":0},{"s":"CaM1N","t":1.2,"n":1},{"s":"CaM1N","t":3.5,"n":1},{"s":"CaM1N","t":4.0,"n":0},{"s":"CaM1N","t":5.05,"n":0},{"s":"CaM1N","t":5.2,"n":1},{"s":"CaM1N","t":7.5,"n":1},{"s":"CaM1N","t":8.0,"n":0},{"s":"CaM1N","t":11.04,"n":0},
      {"s":"CaM2N","t":0,"n":0},{"s":"CaM2N","t":1.1,"n":0},{"s":"CaM2N","t":3.5,"n":0},{"s":"CaM2N","t":5.1,"n":0},{"s":"CaM2N","t":7.5,"n":0},{"s":"CaM2N","t":11.04,"n":0},
      {"s":"CaM1C1N","t":0,"n":0},{"s":"CaM1C1N","t":1.05,"n":0},{"s":"CaM1C1N","t":1.2,"n":2},{"s":"CaM1C1N","t":3.4,"n":2},{"s":"CaM1C1N","t":3.8,"n":0},{"s":"CaM1C1N","t":5.05,"n":0},{"s":"CaM1C1N","t":5.2,"n":2},{"s":"CaM1C1N","t":7.4,"n":2},{"s":"CaM1C1N","t":7.8,"n":0},{"s":"CaM1C1N","t":11.04,"n":0},
      {"s":"CaM1C2N","t":0,"n":0},{"s":"CaM1C2N","t":1.0,"n":0},{"s":"CaM1C2N","t":1.1,"n":5},{"s":"CaM1C2N","t":1.5,"n":3},{"s":"CaM1C2N","t":1.6,"n":6},{"s":"CaM1C2N","t":2.0,"n":3},{"s":"CaM1C2N","t":2.1,"n":6},{"s":"CaM1C2N","t":2.5,"n":3},{"s":"CaM1C2N","t":2.6,"n":5},{"s":"CaM1C2N","t":3.0,"n":3},{"s":"CaM1C2N","t":3.1,"n":5},{"s":"CaM1C2N","t":3.5,"n":2},{"s":"CaM1C2N","t":3.8,"n":0},{"s":"CaM1C2N","t":5.0,"n":0},{"s":"CaM1C2N","t":5.1,"n":4},{"s":"CaM1C2N","t":5.5,"n":3},{"s":"CaM1C2N","t":5.6,"n":6},{"s":"CaM1C2N","t":6.0,"n":3},{"s":"CaM1C2N","t":6.1,"n":6},{"s":"CaM1C2N","t":6.5,"n":3},{"s":"CaM1C2N","t":6.6,"n":5},{"s":"CaM1C2N","t":7.0,"n":3},{"s":"CaM1C2N","t":7.1,"n":5},{"s":"CaM1C2N","t":7.5,"n":2},{"s":"CaM1C2N","t":7.8,"n":0},{"s":"CaM1C2N","t":11.04,"n":0},
      {"s":"CaM2C1N","t":0,"n":0},{"s":"CaM2C1N","t":1.08,"n":0},{"s":"CaM2C1N","t":1.14,"n":40},{"s":"CaM2C1N","t":1.2,"n":63},{"s":"CaM2C1N","t":1.3,"n":48},{"s":"CaM2C1N","t":1.45,"n":32},{"s":"CaM2C1N","t":1.55,"n":22},{"s":"CaM2C1N","t":1.61,"n":8},{"s":"CaM2C1N","t":1.67,"n":40},{"s":"CaM2C1N","t":1.74,"n":60},{"s":"CaM2C1N","t":1.85,"n":45},{"s":"CaM2C1N","t":1.95,"n":35},{"s":"CaM2C1N","t":2.05,"n":28},{"s":"CaM2C1N","t":2.1,"n":8},{"s":"CaM2C1N","t":2.15,"n":35},{"s":"CaM2C1N","t":2.2,"n":52},{"s":"CaM2C1N","t":2.3,"n":38},{"s":"CaM2C1N","t":2.45,"n":28},{"s":"CaM2C1N","t":2.55,"n":22},{"s":"CaM2C1N","t":2.6,"n":8},{"s":"CaM2C1N","t":2.65,"n":32},{"s":"CaM2C1N","t":2.7,"n":46},{"s":"CaM2C1N","t":2.8,"n":35},{"s":"CaM2C1N","t":2.95,"n":26},{"s":"CaM2C1N","t":3.05,"n":22},{"s":"CaM2C1N","t":3.1,"n":8},{"s":"CaM2C1N","t":3.15,"n":30},{"s":"CaM2C1N","t":3.2,"n":42},{"s":"CaM2C1N","t":3.3,"n":26},{"s":"CaM2C1N","t":3.45,"n":15},{"s":"CaM2C1N","t":3.55,"n":8},{"s":"CaM2C1N","t":3.65,"n":3},{"s":"CaM2C1N","t":3.8,"n":0},{"s":"CaM2C1N","t":5.08,"n":0},{"s":"CaM2C1N","t":5.12,"n":20},{"s":"CaM2C1N","t":5.17,"n":35},{"s":"CaM2C1N","t":5.28,"n":25},{"s":"CaM2C1N","t":5.42,"n":18},{"s":"CaM2C1N","t":5.55,"n":14},{"s":"CaM2C1N","t":5.61,"n":6},{"s":"CaM2C1N","t":5.66,"n":33},{"s":"CaM2C1N","t":5.72,"n":50},{"s":"CaM2C1N","t":5.84,"n":38},{"s":"CaM2C1N","t":5.96,"n":29},{"s":"CaM2C1N","t":6.05,"n":24},{"s":"CaM2C1N","t":6.1,"n":8},{"s":"CaM2C1N","t":6.15,"n":33},{"s":"CaM2C1N","t":6.21,"n":48},{"s":"CaM2C1N","t":6.33,"n":36},{"s":"CaM2C1N","t":6.46,"n":27},{"s":"CaM2C1N","t":6.56,"n":22},{"s":"CaM2C1N","t":6.62,"n":8},{"s":"CaM2C1N","t":6.67,"n":31},{"s":"CaM2C1N","t":6.73,"n":44},{"s":"CaM2C1N","t":6.85,"n":33},{"s":"CaM2C1N","t":6.97,"n":25},{"s":"CaM2C1N","t":7.06,"n":20},{"s":"CaM2C1N","t":7.11,"n":6},{"s":"CaM2C1N","t":7.16,"n":27},{"s":"CaM2C1N","t":7.21,"n":40},{"s":"CaM2C1N","t":7.33,"n":27},{"s":"CaM2C1N","t":7.46,"n":16},{"s":"CaM2C1N","t":7.56,"n":8},{"s":"CaM2C1N","t":7.7,"n":2},{"s":"CaM2C1N","t":7.85,"n":0},{"s":"CaM2C1N","t":11.04,"n":0},
      {"s":"CaM4","t":0,"n":0},{"s":"CaM4","t":1.04,"n":0},{"s":"CaM4","t":1.115,"n":597},{"s":"CaM4","t":1.17,"n":430},{"s":"CaM4","t":1.23,"n":300},{"s":"CaM4","t":1.3,"n":175},{"s":"CaM4","t":1.37,"n":120},{"s":"CaM4","t":1.45,"n":80},{"s":"CaM4","t":1.55,"n":62},{"s":"CaM4","t":1.61,"n":605},{"s":"CaM4","t":1.67,"n":440},{"s":"CaM4","t":1.74,"n":300},{"s":"CaM4","t":1.81,"n":180},{"s":"CaM4","t":1.89,"n":112},{"s":"CaM4","t":1.97,"n":75},{"s":"CaM4","t":2.05,"n":60},{"s":"CaM4","t":2.11,"n":516},{"s":"CaM4","t":2.17,"n":370},{"s":"CaM4","t":2.24,"n":250},{"s":"CaM4","t":2.31,"n":160},{"s":"CaM4","t":2.39,"n":100},{"s":"CaM4","t":2.47,"n":68},{"s":"CaM4","t":2.55,"n":55},{"s":"CaM4","t":2.61,"n":420},{"s":"CaM4","t":2.67,"n":300},{"s":"CaM4","t":2.74,"n":205},{"s":"CaM4","t":2.81,"n":135},{"s":"CaM4","t":2.89,"n":88},{"s":"CaM4","t":2.97,"n":62},{"s":"CaM4","t":3.05,"n":52},{"s":"CaM4","t":3.12,"n":361},{"s":"CaM4","t":3.18,"n":265},{"s":"CaM4","t":3.27,"n":150},{"s":"CaM4","t":3.34,"n":98},{"s":"CaM4","t":3.41,"n":62},{"s":"CaM4","t":3.5,"n":35},{"s":"CaM4","t":3.6,"n":20},{"s":"CaM4","t":3.68,"n":22},{"s":"CaM4","t":3.75,"n":12},{"s":"CaM4","t":3.85,"n":4},{"s":"CaM4","t":4.0,"n":0},{"s":"CaM4","t":5.04,"n":0},{"s":"CaM4","t":5.12,"n":324},{"s":"CaM4","t":5.17,"n":210},{"s":"CaM4","t":5.23,"n":115},{"s":"CaM4","t":5.31,"n":65},{"s":"CaM4","t":5.4,"n":46},{"s":"CaM4","t":5.5,"n":40},{"s":"CaM4","t":5.56,"n":40},{"s":"CaM4","t":5.62,"n":479},{"s":"CaM4","t":5.68,"n":335},{"s":"CaM4","t":5.75,"n":212},{"s":"CaM4","t":5.82,"n":122},{"s":"CaM4","t":5.92,"n":72},{"s":"CaM4","t":6.02,"n":50},{"s":"CaM4","t":6.06,"n":45},{"s":"CaM4","t":6.12,"n":429},{"s":"CaM4","t":6.18,"n":305},{"s":"CaM4","t":6.25,"n":192},{"s":"CaM4","t":6.32,"n":114},{"s":"CaM4","t":6.41,"n":70},{"s":"CaM4","t":6.5,"n":46},{"s":"CaM4","t":6.57,"n":42},{"s":"CaM4","t":6.64,"n":370},{"s":"CaM4","t":6.7,"n":265},{"s":"CaM4","t":6.77,"n":170},{"s":"CaM4","t":6.85,"n":100},{"s":"CaM4","t":6.93,"n":62},{"s":"CaM4","t":7.01,"n":42},{"s":"CaM4","t":7.06,"n":38},{"s":"CaM4","t":7.13,"n":339},{"s":"CaM4","t":7.19,"n":235},{"s":"CaM4","t":7.27,"n":138},{"s":"CaM4","t":7.35,"n":84},{"s":"CaM4","t":7.43,"n":50},{"s":"CaM4","t":7.52,"n":30},{"s":"CaM4","t":7.62,"n":15},{"s":"CaM4","t":7.72,"n":7},{"s":"CaM4","t":7.87,"n":2},{"s":"CaM4","t":8.0,"n":0},{"s":"CaM4","t":11.04,"n":0}
    ]
  },
  "hconcat": [
    {
      "width": 530,
      "height": 362,
      "title": {"text": "A.", "dx": -96},
      "layer": [
        {
          "data": {"name": "A"},
          "mark": {"type": "line", "strokeWidth": 3.8, "strokeJoin": "round"},
          "encoding": {
            "x": {"field": "t", "type": "quantitative", "scale": {"domain": [-0.08, 11.22], "nice": false, "zero": false}, "axis": {"values": [0, 2, 4, 6, 8, 10], "title": "time (s)", "labelPadding": 6, "titleY": 62, "titleBaseline": "alphabetic"}},
            "y": {"field": "n", "type": "quantitative", "scale": {"domain": [0, 800], "nice": false}, "axis": {"values": [0, 100, 200, 300, 400, 500, 600, 700, 800], "title": "number of molecules", "titleX": -65, "titleBaseline": "alphabetic", "labelPadding": 10}},
            "color": {
              "field": "s", "type": "nominal",
              "scale": {"domain": ["total", "xtotal", "CaM0", "CaM1C", "CaM2C", "CaM1N", "CaM2N", "CaM1C1N", "CaM1C2N", "CaM2C1N", "CaM4"], "range": ["#9400d3", "#ff6347", "#000000", "#ff0000", "#008000", "#0000ff", "#00bfbf", "#a100c8", "#ffd700", "#1e90ff", "#daa520"]},
              "legend": {"orient": "none", "legendX": 368, "legendY": 75, "title": null, "symbolType": "M-3,0H3", "symbolStrokeWidth": 4, "symbolSize": 87, "symbolOffset": 4, "labelFontSize": 11.5, "labelFont": "DejaVu Sans", "labelColor": "black", "rowPadding": 3, "padding": 5, "fillColor": "rgba(255,255,255,0.8)", "strokeColor": "#cccccc", "cornerRadius": 4, "labelOffset": 16, "labelLimit": 200,
                "labelExpr": "datum.label == 'total' ? 'ucamKII.total' : datum.label == 'xtotal' ? 'ucamxKII total' : 'ucamKII.' + datum.label"}
            }
          }
        },
        {
          "data": {"name": "levels"},
          "mark": {"type": "rule", "strokeDash": [1.2, 1.6], "strokeWidth": 1.2, "color": "black"},
          "encoding": {
            "y": {"field": "n", "type": "quantitative"},
            "x": {"datum": -0.08, "type": "quantitative", "axis": {"orient": "top", "title": "Non-Trapping", "labels": false, "ticks": false, "domain": false, "titleX": 275, "titleY": 20, "titleAlign": "center", "titleBaseline": "alphabetic", "titleFontSize": 28, "titleFontWeight": "bold", "titleAngle": 0, "zindex": 0}},
            "x2": {"datum": 11.22}
          }
        }
      ],
      "resolve": {"axis": {"x": "independent"}}
    },
    {
      "width": 531,
      "height": 362,
      "title": {"text": "B.", "dx": -92},
      "layer": [
        {
          "data": {"name": "B"},
          "mark": {"type": "line", "strokeWidth": 3.8, "strokeJoin": "round"},
          "encoding": {
            "x": {"field": "t", "type": "quantitative", "scale": {"domain": [-0.09, 11.22], "nice": false, "zero": false}, "axis": {"values": [0, 2, 4, 6, 8, 10], "title": "time (s)", "labelPadding": 6, "titleY": 62, "titleBaseline": "alphabetic"}},
            "y": {"field": "n", "type": "quantitative", "scale": {"domain": [0, 800], "nice": false}, "axis": {"values": [0, 100, 200, 300, 400, 500, 600, 700, 800], "title": null, "labelPadding": 10}},
            "color": {
              "field": "s", "type": "nominal",
              "scale": {"domain": ["total", "xtotal", "CaM0", "CaM1C", "CaM2C", "CaM1N", "CaM2N", "CaM1C1N", "CaM1C2N", "CaM2C1N", "CaM4"], "range": ["#9400d3", "#ff6347", "#000000", "#ff0000", "#008000", "#0000ff", "#00bfbf", "#a100c8", "#ffd700", "#1e90ff", "#daa520"]},
              "legend": null
            }
          }
        },
        {
          "data": {"name": "levels"},
          "mark": {"type": "rule", "strokeDash": [1.2, 1.6], "strokeWidth": 1.2, "color": "black"},
          "encoding": {
            "y": {"field": "n", "type": "quantitative"},
            "x": {"datum": -1.85, "type": "quantitative", "axis": {"orient": "top", "title": "Trapping", "labels": false, "ticks": false, "domain": false, "titleX": 253, "titleY": 20, "titleAlign": "center", "titleBaseline": "alphabetic", "titleFontSize": 28, "titleFontWeight": "bold", "titleAngle": 0, "zindex": 0}},
            "x2": {"datum": 11.28}
          }
        }
      ],
      "resolve": {"axis": {"x": "independent"}}
    }
  ]
}
